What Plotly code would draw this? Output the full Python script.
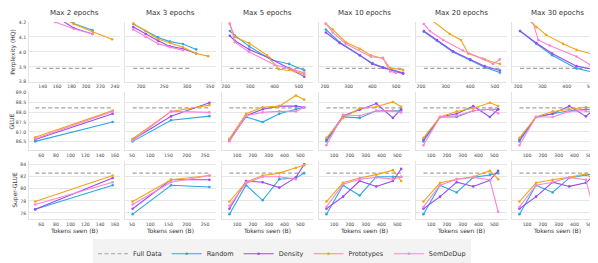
import plotly.graph_objects as go
from plotly.subplots import make_subplots

# ---------------- data ----------------
panel_titles = ["Max 2 epochs", "Max 3 epochs", "Max 5 epochs",
                "Max 10 epochs", "Max 20 epochs", "Max 30 epochs"]
methods = ["Random", "Density", "Prototypes", "SemDeDup"]
row_titles = ["Perplexity (HQ)", "GLUE", "Super-GLUE"]

# Row 1: perplexity (HQ); tokens seen (B) per panel, per method
ppl_x_random = [[131, 157, 183, 209], [183, 210, 237, 263, 291, 320],
                [216, 237, 296, 388, 460, 522], [204, 262, 347, 400, 445, 530],
                [212, 265, 330, 400, 459, 520], [208, 275, 340, 440, 520]]
ppl_random = [[4.40, 4.27, 4.19, 4.145], [4.187, 4.14, 4.097, 4.069, 4.053, 4.017],
              [4.14, 4.11, 4.037, 3.946, 3.92, 3.877], [4.15, 4.065, 3.978, 3.925, 3.897, 3.86],
              [4.135, 4.075, 4.0, 3.945, 3.897, 3.862], [4.14, 4.054, 3.978, 3.89, 3.86]]
ppl_x_density = [[131, 157, 183, 209], [183, 210, 237, 263, 291, 320],
                 [216, 237, 296, 378, 460, 522], [204, 262, 347, 400, 445, 530],
                 [212, 265, 330, 400, 459, 520], [208, 275, 340, 440, 520]]
ppl_density = [[4.36, 4.24, 4.16, 4.12], [4.166, 4.12, 4.075, 4.037, 4.021, 3.989],
               [4.108, 4.075, 4.016, 3.96, 3.89, 3.835], [4.13, 4.06, 3.978, 3.92, 3.895, 3.855],
               [4.14, 4.08, 4.005, 3.95, 3.905, 3.876], [4.14, 4.06, 3.989, 3.905, 3.88]]
ppl_x_prototypes = [[157, 183, 209, 236], [183, 210, 237, 263, 291, 320, 346],
                    [216, 237, 296, 369, 418, 482, 522], [204, 233, 288, 347, 394, 445, 475, 530],
                    [212, 317, 362, 392, 459, 520], [208, 275, 315, 385, 440, 520]]
ppl_prototypes = [[4.26, 4.187, 4.135, 4.085], [4.19, 4.14, 4.086, 4.06, 4.032, 3.989, 3.972],
                  [4.187, 4.10, 4.058, 3.978, 3.884, 3.871, 3.85],
                  [4.187, 4.15, 4.065, 4.021, 3.978, 3.957, 3.892, 3.88],
                  [4.25, 4.12, 4.08, 3.989, 3.95, 3.92], [4.26, 4.166, 4.114, 4.054, 4.015, 3.978]]
ppl_x_semdedup = [[131, 157, 183, 209], [183, 210, 237, 263, 291],
                  [216, 237, 296, 400, 482, 522], [204, 233, 288, 394, 445, 475, 500],
                  [212, 236, 290, 370, 450, 492, 520], [208, 283, 330, 440, 497, 520]]
ppl_semdedup = [[4.30, 4.20, 4.155, 4.12], [4.15, 4.10, 4.054, 4.032, 4.011],
                [4.19, 4.065, 4.0, 3.914, 3.88, 3.86], [4.19, 4.13, 4.054, 3.968, 3.96, 3.87, 3.86],
                [4.187, 4.14, 4.08, 4.01, 3.955, 3.92, 3.95], [4.47, 4.08, 4.043, 3.97, 3.914, 3.95]]
ppl_full = 3.89
ppl_full_x = [[131, 209], [183, 305], [216, 522], [204, 530], [212, 520], [208, 520]]

# Rows 2-3: downstream evaluations
eval_x = [[52, 157], [52, 157, 262], [52, 157, 262, 367, 472, 524],
          [52, 157, 262, 367, 472, 524], [52, 157, 262, 367, 472, 524],
          [52, 157, 262, 367, 472, 524]]

glue_random = [[86.52, 87.5], [86.52, 87.59, 87.8],
               [86.62, 87.76, 87.5, 87.92, 88.15, 88.25], [86.52, 87.76, 87.71, 88.07, 88.07, 88.07],
               [86.52, 87.76, 87.76, 88.07, 88.15, 88.15], [86.52, 87.76, 87.92, 88.07, 88.15, 88.1]]
glue_density = [[86.61, 87.92], [86.6, 87.79, 88.48],
                [86.56, 87.82, 88.15, 88.31, 88.31, 88.25], [86.6, 87.82, 88.12, 88.44, 87.71, 88.15],
                [86.6, 87.76, 87.92, 88.31, 87.76, 88.15], [86.6, 87.76, 87.92, 88.31, 87.79, 88.15]]
glue_prototypes = [[86.73, 88.08], [86.65, 88.04, 88.36],
                   [86.65, 87.92, 88.25, 88.31, 88.85, 88.64], [86.7, 87.71, 88.2, 88.28, 88.52, 88.28],
                   [86.7, 87.76, 88.04, 88.2, 88.48, 88.31], [86.7, 87.76, 88.04, 88.15, 88.25, 88.2]]
glue_semdedup = [[86.65, 88.04], [86.56, 88.04, 87.99],
                 [86.52, 87.82, 87.99, 88.04, 88.04, 88.25], [86.32, 87.87, 87.82, 88.07, 88.07, 87.99],
                 [86.32, 87.76, 87.82, 88.07, 88.15, 87.95], [86.32, 87.76, 87.76, 88.04, 88.07, 87.95]]
glue_full = 88.22

sglue_random = [[76.6, 80.6], [75.8, 80.6, 80.3],
                [75.8, 80.6, 78.1, 81.6, 81.8, 82.6], [75.8, 80.6, 78.9, 82.0, 82.0, 82.0],
                [75.8, 80.6, 79.4, 81.9, 82.3, 82.6], [75.8, 80.6, 79.4, 81.8, 82.3, 82.5]]
sglue_density = [[76.6, 81.8], [76.7, 81.5, 81.5],
                 [76.7, 81.3, 81.1, 80.2, 81.9, 84.05], [76.7, 78.7, 81.3, 80.4, 81.3, 83.3],
                 [76.7, 78.7, 81.1, 80.4, 81.4, 83.0], [76.7, 78.7, 81.1, 80.4, 81.0, 82.3]]
sglue_prototypes = [[77.9, 82.2], [77.9, 81.5, 82.2],
                    [77.9, 81.1, 82.2, 82.6, 83.5, 83.9], [77.9, 81.0, 81.8, 82.35, 83.1, 81.3],
                    [77.9, 81.0, 81.6, 82.0, 83.0, 81.6], [77.9, 81.0, 81.5, 81.9, 82.5, 81.4]]
sglue_semdedup = [[77.4, 81.1], [77.4, 81.1, 82.2],
                  [77.2, 80.9, 82.0, 82.0, 81.6], [77.0, 80.75, 81.6, 81.9, 81.6, 82.0],
                  [77.0, 80.6, 81.6, 81.9, 81.5, 76.2], [77.0, 80.6, 81.1, 81.9, 81.5, 76.2]]
sglue_full = 82.6

# axis ticks
ppl_xticks = [[140, 160, 180, 200, 220, 240], [200, 250, 300, 350],
              [200, 300, 400, 500], [200, 300, 400, 500], [200, 300, 400, 500], [200, 300, 400, 500]]
eval_xticks = [[60, 80, 100, 120, 140, 160], [50, 100, 150, 200, 250],
               [100, 200, 300, 400, 500], [100, 200, 300, 400, 500],
               [100, 200, 300, 400, 500], [100, 200, 300, 400, 500]]
ppl_yticks = [3.8, 3.9, 4.0, 4.1, 4.2]
glue_yticks = [86.5, 87.0, 87.5, 88.0, 88.5, 89.0]
sglue_yticks = [76, 78, 80, 82, 84]

# ---------------- style / layout ----------------
colors = {"Random": "#2aa9e0", "Density": "#9a4af5", "Prototypes": "#f2a516",
          "SemDeDup": "#fc85d3", "Full Data": "#a3a3a3"}
W, H = 598, 263
L, R, T, B = 21, 3, 14, 45
PW, PH = W - L - R, H - T - B
col_px = [(21, 112), (117, 208), (214, 305), (311, 402), (408, 499), (504, 595)]
row_px = [(14, 76), (87, 147), (158, 218)]
ppl_xrange = [[121, 247], [165, 363], [184, 558], [175, 559], [180, 549], [175, 549]]
eval_xrange = [[43.5, 167], [31, 280], [5, 580], [5, 580], [5, 580], [5, 580]]
yranges = [[3.8, 4.2], [86.06, 89.0], [75.0, 84.6]]

fig = make_subplots(rows=3, cols=6)

def add_series(r, c, x, y, name, first):
    fig.add_trace(go.Scatter(
        x=x, y=y, mode="lines+markers", name=name, legendgroup=name,
        showlegend=first, line=dict(color=colors[name], width=1.1),
        marker=dict(color=colors[name], size=2.6, symbol="circle")), row=r, col=c)

def add_full(r, c, x, val, first):
    fig.add_trace(go.Scatter(
        x=[x[0], x[-1]], y=[val, val], mode="lines", name="Full Data",
        legendgroup="Full Data", showlegend=first,
        line=dict(color=colors["Full Data"], width=1.1, dash="4px,2.5px")), row=r, col=c)

ppl_sets = {"Random": (ppl_x_random, ppl_random), "Density": (ppl_x_density, ppl_density),
            "Prototypes": (ppl_x_prototypes, ppl_prototypes), "SemDeDup": (ppl_x_semdedup, ppl_semdedup)}
glue_sets = {"Random": glue_random, "Density": glue_density,
             "Prototypes": glue_prototypes, "SemDeDup": glue_semdedup}
sglue_sets = {"Random": sglue_random, "Density": sglue_density,
              "Prototypes": sglue_prototypes, "SemDeDup": sglue_semdedup}

for c in range(6):
    first = (c == 0)
    add_full(1, c + 1, ppl_full_x[c], ppl_full, first)
    for m in methods:
        xs, ys = ppl_sets[m]
        add_series(1, c + 1, xs[c], ys[c], m, first)
    ex = eval_x[c]
    add_full(2, c + 1, ex, glue_full, False)
    for m in methods:
        add_series(2, c + 1, ex[:len(glue_sets[m][c])], glue_sets[m][c], m, False)
    add_full(3, c + 1, ex, sglue_full, False)
    for m in methods:
        add_series(3, c + 1, ex[:len(sglue_sets[m][c])], sglue_sets[m][c], m, False)

tick_font = dict(family="DejaVu Sans", size=4.6, color="#444444")
title_font = dict(family="DejaVu Sans", size=6, color="#333333")
yticks_all = [ppl_yticks, glue_yticks, sglue_yticks]
yfmt = [".1f", ".1f", "d"]

for r in range(3):
    for c in range(6):
        idx = r * 6 + c + 1
        xa = "xaxis" if idx == 1 else f"xaxis{idx}"
        ya = "yaxis" if idx == 1 else f"yaxis{idx}"
        x0, x1 = col_px[c]
        y0, y1 = row_px[r]
        xr = ppl_xrange[c] if r == 0 else eval_xrange[c]
        xt = ppl_xticks[c] if r == 0 else eval_xticks[c]
        fig.layout[xa].update(
            domain=[(x0 - L) / PW, (x1 - L) / PW], range=xr, tickvals=xt,
            showgrid=False, zeroline=False, showline=True, linecolor="#e3e3e3",
            linewidth=1, ticks="", tickfont=tick_font, ticklabelstandoff=0)
        fig.layout[ya].update(
            domain=[(T + PH - y1) / PH, (T + PH - y0) / PH], range=yranges[r],
            tickvals=yticks_all[r], tickformat=yfmt[r], showgrid=True,
            gridcolor="#e6e6e6", gridwidth=1, zeroline=False, showline=True,
            linecolor="#e3e3e3", linewidth=1, ticks="", tickfont=tick_font,
            showticklabels=(c == 0), ticklabelstandoff=1)
        if c == 0:
            fig.layout[ya].update(title=dict(text=row_titles[r], font=title_font, standoff=2))
        if r == 2:
            fig.layout[xa].update(title=dict(text="Tokens seen (B)", font=title_font, standoff=2))

for c in range(6):
    x0, x1 = col_px[c]
    fig.add_annotation(text=panel_titles[c], xref="paper", yref="paper",
                       x=((x0 + x1) / 2 - L) / PW, y=(T + PH - 5) / PH,
                       xanchor="center", yanchor="middle", showarrow=False,
                       font=dict(family="DejaVu Sans", size=7, color="#333333"))

fig.update_layout(
    width=W, height=H, margin=dict(l=L, r=R, t=T, b=B),
    paper_bgcolor="white", plot_bgcolor="white",
    font=dict(family="DejaVu Sans", color="#333333"),
    legend=dict(orientation="h", x=(274 - L) / PW, xanchor="center",
                y=(T + PH - 239) / PH, yanchor="top",
                bgcolor="#f3f3f3", borderwidth=0,
                font=dict(family="DejaVu Sans", size=6.5, color="#333333"),
                itemwidth=30, tracegroupgap=0, traceorder="normal"),
)

fig.write_html("out.html")
